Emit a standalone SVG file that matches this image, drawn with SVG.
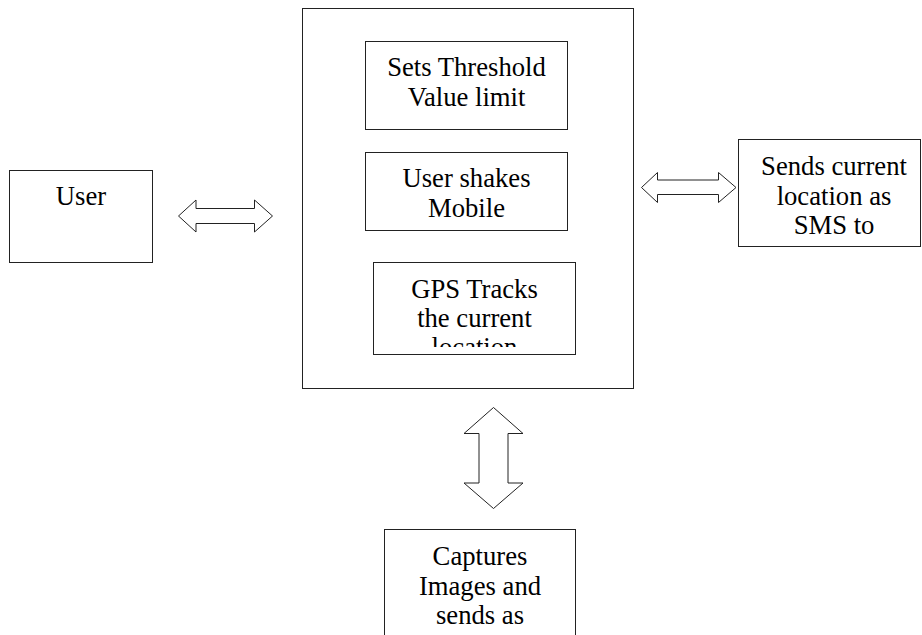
<svg xmlns="http://www.w3.org/2000/svg" width="922" height="635" viewBox="0 0 922 635">
  <style>
    .box { fill: #ffffff; stroke: #222222; stroke-width: 1; }
    .arrow { fill: #ffffff; stroke: #222222; stroke-width: 1; stroke-linejoin: miter; }
    .label { font-family: "Liberation Serif", "Times New Roman", serif; font-size: 26.67px; fill: #000000; text-anchor: middle; }
  </style>
  <defs>
    <clipPath id="gpsClip">
      <rect x="374" y="263" width="202" height="84"/>
    </clipPath>
  </defs>
  <rect width="922" height="635" fill="#ffffff"/>

  <!-- double-headed block arrows -->
  <g id="connectors">
    <polygon class="arrow" points="178.5,216 196,200 196,208.5 254.5,208.5 254.5,200 272.5,216 254.5,232 254.5,223.5 196,223.5 196,232"/>
    <polygon class="arrow" points="641.5,187.5 657.5,172.5 657.5,180 718.5,180 718.5,172.5 736,187.5 718.5,202.5 718.5,194.5 657.5,194.5 657.5,202.5"/>
    <polygon class="arrow" points="493.5,407.5 523,433.5 508,433.5 508,483 523,483 493.5,508.5 464,483 479,483 479,433.5 464,433.5"/>
  </g>

  <g id="user">
    <rect class="box" x="9.5" y="170.5" width="143" height="92"/>
    <text class="label" x="81" y="205">User</text>
  </g>

  <g id="mobile">
    <rect class="box" x="302.5" y="8.5" width="331" height="380"/>
  </g>

  <g id="threshold">
    <rect class="box" x="365.5" y="41.5" width="202" height="88"/>
    <text class="label" x="466.5" y="76">Sets Threshold</text>
    <text class="label" x="466.5" y="106">Value limit</text>
  </g>

  <g id="shake">
    <rect class="box" x="365.5" y="152.5" width="202" height="78"/>
    <text class="label" x="466.5" y="187">User shakes</text>
    <text class="label" x="466.5" y="217">Mobile</text>
  </g>

  <g id="gps">
    <rect class="box" x="373.5" y="262.5" width="202" height="92"/>
    <g clip-path="url(#gpsClip)">
      <text class="label" x="474.5" y="298">GPS Tracks</text>
      <text class="label" x="474.5" y="327">the current</text>
      <text class="label" x="474.5" y="356">location</text>
    </g>
  </g>

  <g id="sms">
    <rect class="box" x="738.5" y="139.5" width="182" height="107"/>
    <text class="label" x="834" y="174.5">Sends current</text>
    <text class="label" x="834" y="204.5">location as</text>
    <text class="label" x="834" y="233.5">SMS to</text>
  </g>

  <g id="capture">
    <rect class="box" x="384.5" y="529.5" width="191" height="120"/>
    <text class="label" x="480" y="565">Captures</text>
    <text class="label" x="480" y="595">Images and</text>
    <text class="label" x="480" y="624">sends as</text>
  </g>
</svg>
